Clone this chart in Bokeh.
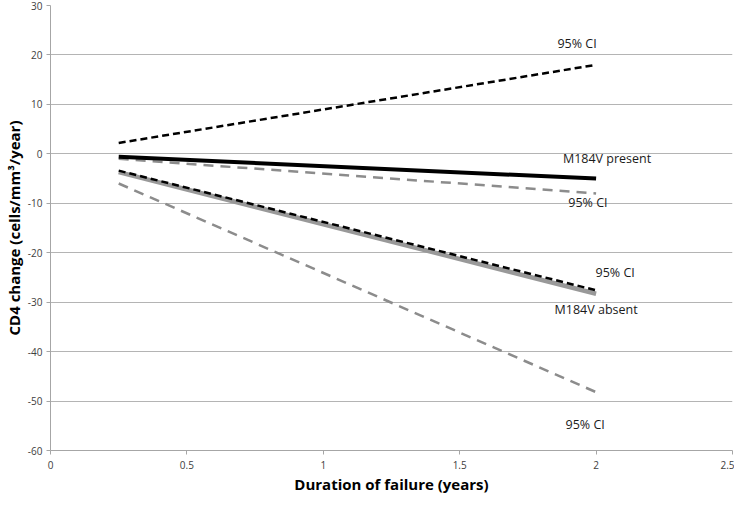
from bokeh.plotting import figure
from bokeh.embed import file_html
from bokeh.resources import INLINE
from bokeh.models import Range1d, FixedTicker, Label

# Data
duration = [0.25, 2.0]
present = [-0.6, -5.0]
present_ci_upper = [2.2, 18.0]
present_ci_lower = [-1.0, -8.0]
absent = [-3.7, -28.3]
absent_ci_upper = [-3.4, -27.6]
absent_ci_lower = [-6.0, -48.2]

x_ticks = [0, 0.5, 1, 1.5, 2, 2.5]
y_ticks = [-60, -50, -40, -30, -20, -10, 0, 10, 20, 30]

labels_text = ["95% CI", "M184V present", "95% CI", "95% CI", "M184V absent", "95% CI"]
labels_x = [1.93, 2.04, 1.97, 2.07, 2.0, 1.96]
labels_y = [22.3, -0.9, -9.9, -24.0, -31.5, -54.8]

x_title = "Duration of failure (years)"
y_title = "CD4 change (cells/mm³/year)"

FONT = "Open Sans"

p = figure(width=734, height=496, output_backend="svg", toolbar_location=None,
           x_range=Range1d(0, 2.5), y_range=Range1d(-60, 30),
           min_border_top=5, min_border_right=2, min_border_left=0, min_border_bottom=0)
p.outline_line_color = None
p.background_fill_color = "white"

p.xgrid.visible = False
p.ygrid.grid_line_color = "#b4b4b4"
p.ygrid.grid_line_width = 1

p.xaxis.ticker = FixedTicker(ticks=x_ticks)
p.yaxis.ticker = FixedTicker(ticks=y_ticks)
p.yaxis.major_label_overrides = {t: str(t) for t in y_ticks}
for ax in (p.xaxis[0], p.yaxis[0]):
    ax.axis_line_color = "#a6a6a6"
    ax.major_tick_line_color = "#a6a6a6"
    ax.minor_tick_line_color = None
    ax.major_tick_in = 0
    ax.major_tick_out = 4
    ax.major_label_text_font = FONT
    ax.major_label_text_font_size = "10px"
    ax.major_label_text_color = "#404040"
    ax.axis_label_text_font = FONT
    ax.axis_label_text_font_style = "bold"
    ax.axis_label_text_font_size = "15px"
    ax.axis_label_text_color = "#000000"
p.xaxis.axis_label = x_title
p.yaxis.axis_label = y_title
p.xaxis.major_label_standoff = 6
p.xaxis.axis_label_standoff = 2
p.yaxis.major_label_standoff = 4
p.yaxis.axis_label_standoff = 1

p.line(duration, present_ci_upper, line_color="black", line_width=2.5, line_dash="7 4")
p.line(duration, present_ci_lower, line_color="#8c8c8c", line_width=2.5, line_dash="10 7")
p.line(duration, absent, line_color="#999999", line_width=4.5)
p.line(duration, absent_ci_upper, line_color="black", line_width=2.5, line_dash="7 4")
p.line(duration, absent_ci_lower, line_color="#8c8c8c", line_width=2.5, line_dash="10 7")
p.line(duration, present, line_color="black", line_width=4)

for t, x, y in zip(labels_text, labels_x, labels_y):
    p.add_layout(Label(x=x, y=y, text=t, text_align="center", text_baseline="middle",
                       text_font=FONT, text_font_size="12.5px", text_color="#1a1a1a"))

open("out.html", "w").write(file_html(p, INLINE))
